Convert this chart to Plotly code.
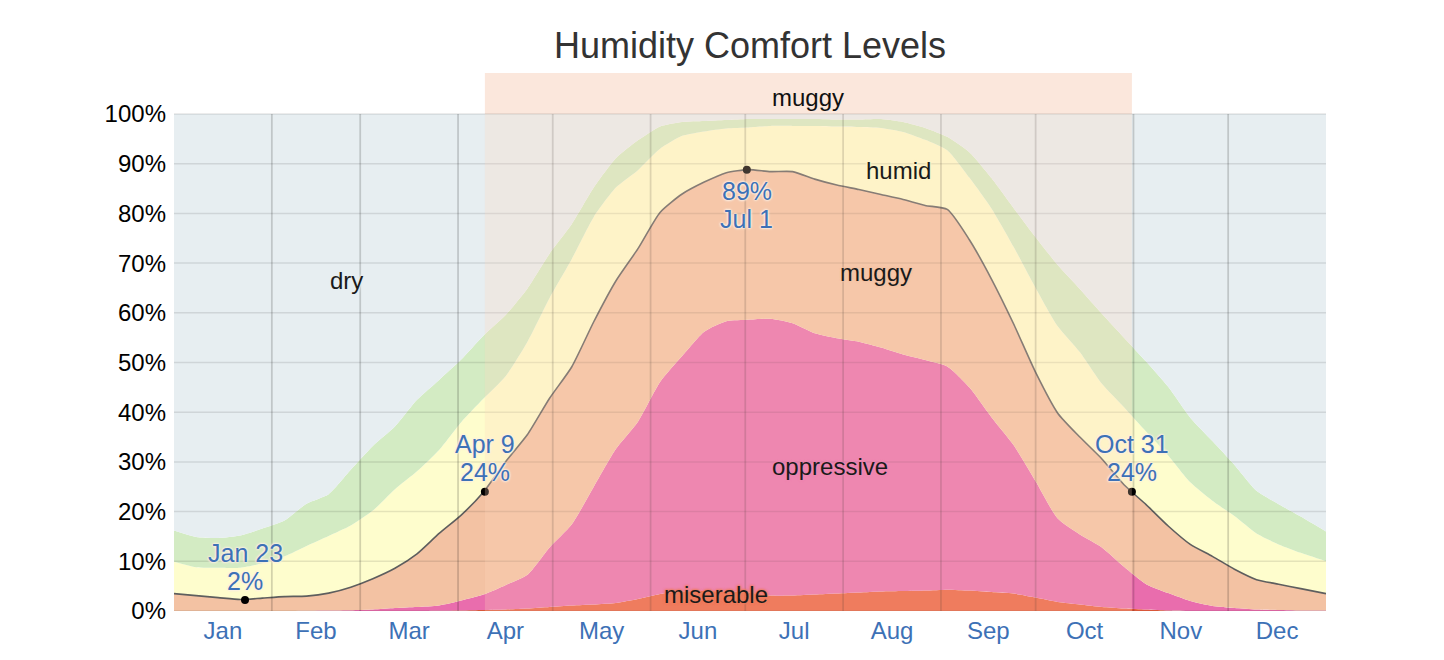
from datetime import datetime
import plotly.graph_objects as go

# ---------------- data (percent of days, cumulative from worst class up) ----------------
days = [0, 7, 14, 21, 28, 35, 42, 49, 56, 63, 70, 77, 84, 91, 98, 105, 112, 119, 126, 133,
        140, 147, 154, 161, 168, 175, 182, 189, 196, 203, 210, 217, 224, 231, 238, 245, 252,
        259, 266, 273, 280, 287, 294, 301, 308, 315, 322, 329, 336, 343, 350, 357, 365]

miserable = [0, 0, 0, 0, 0, 0, 0, 0, 0, 0, 0, 0, 0.05, 0.1, 0.2, 0.3, 0.5, 0.8, 1.1, 1.3,
             1.6, 2.4, 3.4, 3.9, 4.0, 3.9, 3.7, 3.1, 3.1, 3.3, 3.5, 3.7, 3.9, 4.0, 4.1, 4.3, 4.1,
             3.8, 3.5, 2.7, 1.8, 1.3, 0.8, 0.5, 0.3, 0.1, 0, 0, 0, 0, 0, 0, 0]

oppressive_or_worse = [0, 0, 0, 0, 0, 0, 0.05, 0.1, 0.15, 0.3, 0.6, 0.8, 1.1, 2.1, 3.3, 5.2, 7.3,
                       12.8, 17.4, 25.0, 32.6, 38.1, 46.1, 51.3, 56.2, 58.3, 58.6, 58.8, 57.9, 55.9,
                       54.9, 54.2, 53.0, 51.6, 50.5, 49.2, 45.0, 39.0, 33.4, 26.1, 18.6, 15.4, 12.8,
                       8.9, 5.4, 3.6, 2.0, 1.0, 0.6, 0.3, 0.2, 0.1, 0.1]

muggy_or_worse = [3.5, 3.1, 2.7, 2.3, 2.6, 2.9, 3.0, 3.6, 4.8, 6.5, 8.6, 11.5, 15.6, 19.3, 23.9,
                  30.0, 35.5, 42.8, 49.1, 58.2, 66.4, 72.9, 80.2, 83.9, 86.3, 88.2, 88.8, 88.4,
                  88.4, 86.9, 85.7, 84.8, 83.8, 82.8, 81.6, 80.8, 74.7, 66.8, 57.8, 48.0, 39.8,
                  35.0, 30.6, 25.4, 21.4, 17.1, 13.4, 11.0, 8.4, 6.3, 5.4, 4.5, 3.5]

humid_or_worse = [9.9, 8.8, 8.7, 8.7, 9.6, 11.0, 13.1, 15.1, 17.2, 20.2, 24.5, 28.1, 32.4, 38.0,
                  42.7, 47.2, 54.2, 63.0, 70.8, 79.3, 85.2, 88.7, 93.0, 95.6, 96.5, 97.1, 97.3,
                  97.6, 97.6, 97.6, 97.5, 97.4, 97.2, 96.4, 94.8, 92.7, 87.2, 81.0, 73.3, 65.0,
                  57.3, 52.1, 45.7, 41.0, 36.1, 31.3, 25.9, 22.2, 19.1, 15.6, 13.4, 11.7, 10.0]

comfortable_or_worse = [16.2, 14.9, 14.7, 15.2, 16.6, 18.2, 21.6, 23.5, 28.4, 33.2, 37.1, 42.5,
                        46.5, 50.6, 55.4, 59.5, 64.9, 71.9, 77.8, 85.2, 91.1, 94.7, 97.5, 98.4,
                        98.6, 98.8, 99.0, 99.0, 99.0, 99.0, 98.9, 98.9, 99.0, 98.4, 97.2, 95.4,
                        92.3, 87.1, 81.1, 75.2, 69.6, 64.8, 59.8, 55.0, 50.2, 45.1, 38.9, 34.2,
                        29.4, 24.2, 21.5, 19.0, 16.0]

all_days = [100] * len(days)

key_dates = ["Jan 23", "Apr 9", "Jul 1", "Oct 31"]
key_values = [2.2, 24.0, 88.8, 24.0]

month_names = ["Jan", "Feb", "Mar", "Apr", "May", "Jun", "Jul", "Aug", "Sep", "Oct", "Nov", "Dec"]
y_ticks = [0, 10, 20, 30, 40, 50, 60, 70, 80, 90, 100]
y_tick_labels = [f"{v}%" for v in y_ticks]

band_labels = ["dry", "humid", "muggy", "oppressive", "miserable"]
band_label_pos = [(54.8, 66.6), (229.7, 88.7), (222.4, 68.2), (207.9, 29.0), (171.7, 3.4)]

# ---------------- helpers ----------------
YEAR = 2017
jan1 = datetime(YEAR, 1, 1)


def day_of(label):
    return (datetime.strptime(f"{label} {YEAR}", "%b %d %Y") - jan1).days + 0.5


month_starts = [(datetime(YEAR, m, 1) - jan1).days for m in range(1, 13)]
month_ends = month_starts[1:] + [365]
month_mids = [(a + b) / 2 for a, b in zip(month_starts, month_ends)]
key_days = [day_of(d) for d in key_dates]

FONT = "Liberation Sans, Arial, Helvetica, sans-serif"
C_DRY = "#e7eef1"
C_COMF = "#d3ebc3"
C_HUMID = "#fefdcd"
C_MUGGY = "#f3c2a3"
C_OPP = "#e96dad"
C_MIS = "#ea5e3f"
BLUE = "#3d71b6"
TOP = 108.25
LBL = 25

fig = go.Figure()

layers = [
    (miserable, C_MIS, "tozeroy"),
    (oppressive_or_worse, C_OPP, "tonexty"),
    (muggy_or_worse, C_MUGGY, "tonexty"),
    (humid_or_worse, C_HUMID, "tonexty"),
    (comfortable_or_worse, C_COMF, "tonexty"),
    (all_days, C_DRY, "tonexty"),
]
for ys, col, fill in layers:
    fig.add_trace(go.Scatter(x=days, y=ys, mode="lines",
                             line=dict(width=0, color=col, shape="spline", smoothing=0.6),
                             fill=fill, fillcolor=col, hoverinfo="skip", showlegend=False))

fig.add_trace(go.Scatter(x=days, y=muggy_or_worse, mode="lines",
                         line=dict(color="#5e5e5e", width=1.6, shape="spline", smoothing=0.6),
                         showlegend=False))
fig.add_trace(go.Scatter(x=key_days, y=key_values, mode="markers",
                         marker=dict(color="black", size=8), showlegend=False))

shapes = []
for yv in y_ticks:
    shapes.append(dict(type="line", xref="x", yref="y", x0=0, x1=365, y0=yv, y1=yv,
                       line=dict(color="rgba(0,0,0,0.10)", width=1.5), layer="above"))
for xv in month_starts[1:]:
    shapes.append(dict(type="line", xref="x", yref="y", x0=xv, x1=xv, y0=0, y1=100,
                       line=dict(color="rgba(0,0,0,0.17)", width=1.8), layer="above"))
band_x0, band_x1 = key_days[1], key_days[3]
shapes.append(dict(type="rect", xref="x", yref="y", x0=band_x0, x1=band_x1, y0=0, y1=100,
                   fillcolor="rgba(254,214,186,0.25)", line=dict(width=0), layer="above"))
shapes.append(dict(type="rect", xref="x", yref="y", x0=band_x0, x1=band_x1, y0=100, y1=TOP,
                   fillcolor="#fbe7dc", line=dict(width=0), layer="below"))


def halo(c):
    return f"0 0 2px {c}, 0 0 2px {c}, 0 0 3px {c}, 0 0 3px {c}"


annotations = []
halo_cols = [C_DRY, "#fdf3c8", C_MUGGY, "#ee87b1", "#ef7c5e"]
for text, (px, py), hc in zip(band_labels, band_label_pos, halo_cols):
    annotations.append(dict(x=px, y=py, xref="x", yref="y", text=text, showarrow=False,
                            font=dict(family=FONT, size=LBL - 1, color="#1a1a1a", shadow=halo(hc))))
annotations.append(dict(x=(band_x0 + band_x1) / 2, y=(100 + TOP) / 2 - 0.8, xref="x", yref="y",
                        text="muggy", showarrow=False,
                        font=dict(family=FONT, size=LBL - 1, color="#111111")))

for d, dd, v in zip(key_dates, key_days, key_values):
    below = v > 50
    pct = f"{round(v)}%"
    if below:
        lines = [(pct, -21), (d, -49)]
    else:
        lines = [(pct, 19.5), (d, 47.5)]
    for txt, shift in lines:
        annotations.append(dict(x=dd, y=v, xref="x", yref="y", text=txt, showarrow=False,
                                yanchor="middle", yshift=shift,
                                font=dict(family=FONT, size=LBL, color=BLUE,
                                          shadow=halo("rgba(253,240,230,0.95)"))))

# page body has an 8px margin, so the figure is 8px smaller than the window
fig.update_layout(
    width=1436, height=652,
    margin=dict(l=166, r=118, t=65, b=49),
    paper_bgcolor="white", plot_bgcolor="white",
    title=dict(text="Humidity Comfort Levels", x=0.5, xanchor="center", y=0.943, yanchor="middle",
               xref="paper", font=dict(family=FONT, size=36, color="#333333")),
    xaxis=dict(range=[0, 365], tickvals=month_mids, ticktext=month_names, showgrid=False,
               zeroline=False, showline=False, ticks="", ticklabelstandoff=3,
               tickfont=dict(family=FONT, size=24, color=BLUE), fixedrange=True),
    yaxis=dict(range=[0, TOP], tickvals=y_ticks, ticktext=y_tick_labels, showgrid=False,
               zeroline=False, showline=False, ticks="", ticklabelstandoff=7,
               tickfont=dict(family=FONT, size=24, color="black"), fixedrange=True),
    shapes=shapes,
    annotations=annotations,
    showlegend=False,
)

fig.write_html("out.html")
